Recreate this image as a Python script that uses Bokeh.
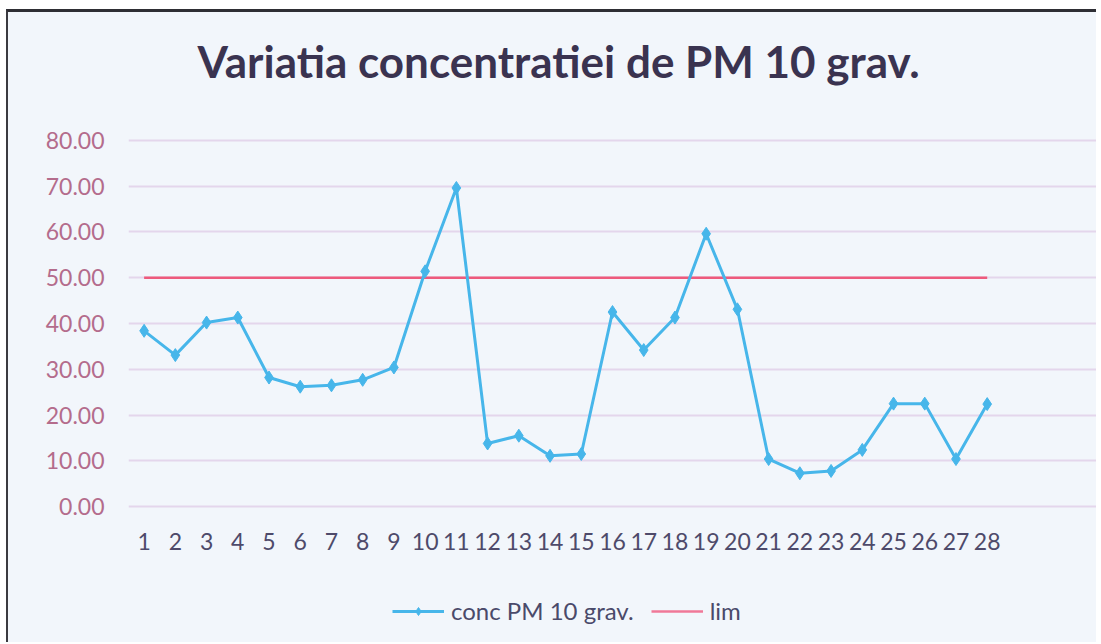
from bokeh.plotting import figure
from bokeh.layouts import column
from bokeh.models import (Range1d, FixedTicker, Legend, LegendItem, ColumnDataSource,
                          NumeralTickFormatter, Label)
from bokeh.embed import file_html
from bokeh.resources import INLINE

days = list(range(1, 29))
conc = [38.4, 33.1, 40.2, 41.3, 28.2, 26.2, 26.5, 27.7, 30.4, 51.4,
        69.6, 13.8, 15.5, 11.1, 11.5, 42.5, 34.2, 41.3, 59.6, 43.1,
        10.4, 7.3, 7.8, 12.4, 22.5, 22.5, 10.4, 22.4]
lim = [50.0] * 28
y_ticks = [0, 10, 20, 30, 40, 50, 60, 70, 80]
series_names = ["conc PM 10 grav.", "lim"]
title_text = "Variatia concentratiei de PM 10 grav."

BG = "#f2f6fb"
BLUE = "#47b6ea"
PINK = "#ee5a7c"
W = 1088


def blank(height):
    f = figure(width=W, height=height, output_backend="svg", toolbar_location=None,
               x_axis_type=None, y_axis_type=None,
               x_range=Range1d(-20, -10), y_range=Range1d(-20, -10))
    f.min_border = 0
    f.background_fill_color = BG
    f.border_fill_color = BG
    f.outline_line_color = None
    f.xgrid.grid_line_color = None
    f.ygrid.grid_line_color = None
    return f


src = ColumnDataSource(dict(x=days, conc=conc, lim=lim))

# title strip
top = blank(108)
top.add_layout(Label(x=69, y=60, x_units="screen", y_units="screen", text=title_text,
                     text_font="Lato", text_font_style="bold", text_font_size="44px",
                     text_color="#3a3350", text_baseline="alphabetic"))

p = figure(width=W, height=452, output_backend="svg", toolbar_location=None,
           x_range=Range1d(0.5, 31.5), y_range=Range1d(-0.4, 80.4))
p.min_border_top = 18
p.min_border_bottom = 64
p.min_border_left = 120
p.min_border_right = 0
p.background_fill_color = BG
p.border_fill_color = BG
p.outline_line_color = None

r_lim = p.line("x", "lim", source=src, line_color=PINK, line_width=2.5)
r_line = p.line("x", "conc", source=src, line_color=BLUE, line_width=3)
r_pts = p.scatter("x", "conc", source=src, marker="diamond", size=13,
                  fill_color=BLUE, line_color=BLUE)

p.xaxis.ticker = FixedTicker(ticks=days)
p.yaxis.ticker = FixedTicker(ticks=y_ticks)
p.yaxis.formatter = NumeralTickFormatter(format="0.00")
for ax in (p.xaxis, p.yaxis):
    ax.axis_line_color = None
    ax.major_tick_line_color = None
    ax.minor_tick_line_color = None
    ax.major_label_text_font = "Lato"
p.xaxis.major_label_text_font_size = "23px"
p.xaxis.major_label_text_color = "#4e4a6a"
p.xaxis.major_label_standoff = 18
p.yaxis.major_label_text_font_size = "23px"
p.yaxis.major_label_text_color = "#b46c8c"
p.yaxis.major_label_standoff = 18

p.xgrid.grid_line_color = None
p.ygrid.ticker = FixedTicker(ticks=y_ticks)
p.ygrid.grid_line_color = "#e4d6ec"
p.ygrid.grid_line_width = 2

# legend strip below the chart (its renderers sit outside the visible range,
# only their legend swatches are shown)
leg = blank(70)
l1 = leg.line("x", "conc", source=src, line_color=BLUE, line_width=3)
l2 = leg.scatter("x", "conc", source=src, marker="diamond", size=11,
                 fill_color=BLUE, line_color=BLUE)
l3 = leg.line("x", "lim", source=src, line_color="#f07898", line_width=2.5)

legend = Legend(items=[
    LegendItem(label=series_names[0], renderers=[l1, l2]),
    LegendItem(label=series_names[1], renderers=[l3]),
], orientation="horizontal", location=(264, 17))
legend.background_fill_alpha = 0
legend.border_line_color = None
legend.label_text_font = "Lato"
legend.label_text_font_size = "24px"
legend.label_text_color = "#4a4a6a"
legend.glyph_width = 52
legend.label_standoff = 7
legend.spacing = 17
legend.margin = 0
leg.add_layout(legend)

layout = column(top, p, leg, spacing=0)
layout.styles = {"margin-left": "6px", "margin-top": "9px", "background-color": BG,
                 "border-top": "3px solid #2e2e34", "border-left": "2px solid #3a3a40"}

open("out.html", "w").write(file_html(layout, INLINE))
